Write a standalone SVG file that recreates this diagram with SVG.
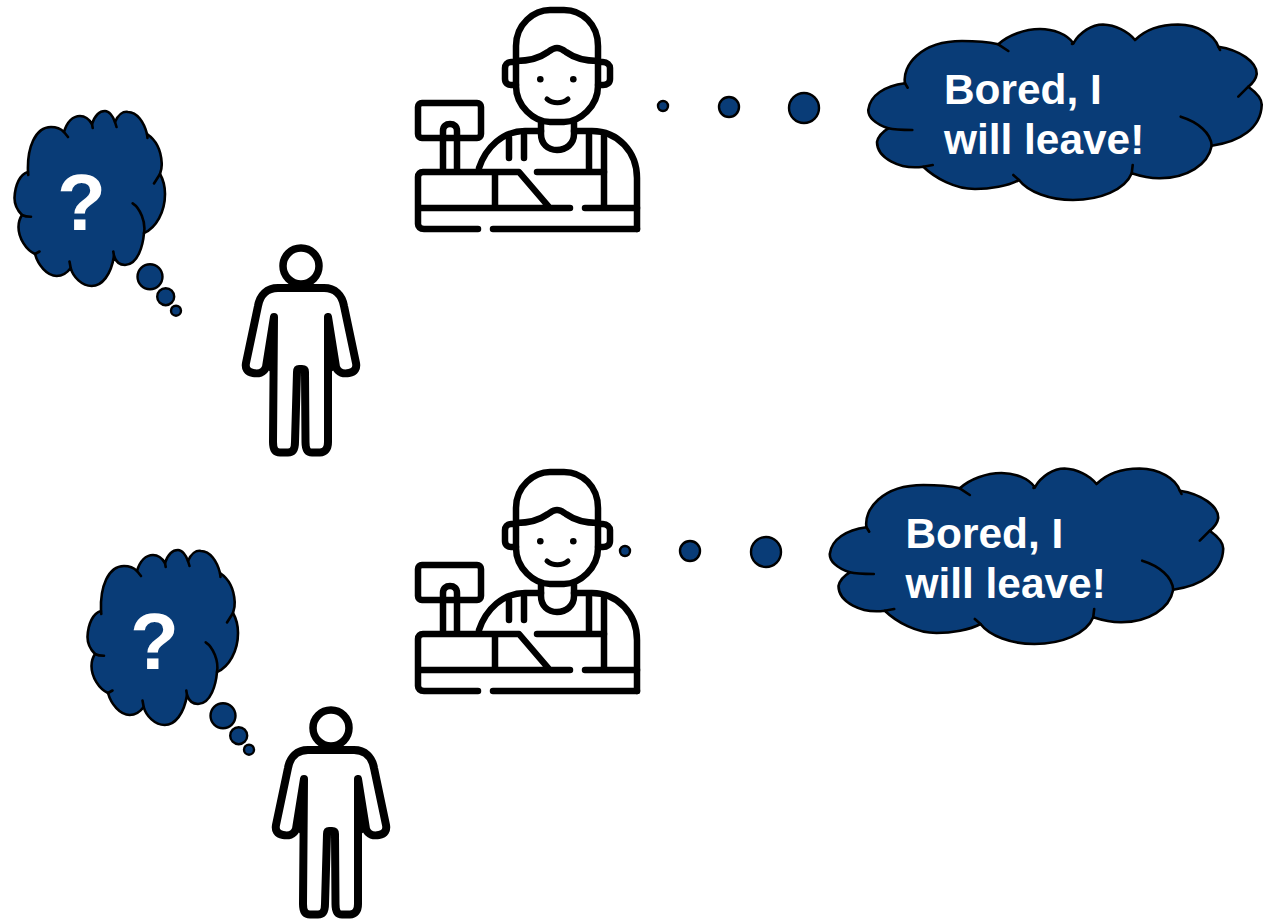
<svg xmlns="http://www.w3.org/2000/svg" width="1268" height="920" viewBox="0 0 1268 920">
<style>
.ic{fill:none;stroke:#000;stroke-width:6.5;stroke-linecap:round;stroke-linejoin:round}
.pe{fill:none;stroke:#000;stroke-width:8;stroke-linecap:round;stroke-linejoin:round}
.cl{fill:#093c77;stroke:#000;stroke-width:2.6;stroke-linejoin:round}
.st{fill:none;stroke:#000;stroke-width:2.6;stroke-linecap:round}
.dot{fill:#093c77;stroke:#000;stroke-width:2.4}
.tx{font-family:"Liberation Sans",Arial,sans-serif;font-weight:700;fill:#fff}
</style>
<defs>
<g id="cashier">
<path class="ic" d="M516 62V46C516 24 534 10 550 10H564C582 10 598 24 598 46V62"/>
<path class="ic" d="M516 61C530 61 541 57 548 52C552 49 554 48 557 48C560 48 562 49 566 52C573 57 584 61 598 61"/>
<path class="ic" d="M516 62V86C516 106 534 122 550 122H564C580 122 598 106 598 86V62"/>
<path class="ic" d="M516 62H511C507 62 505 65 505 68V79C505 83 508 85 511 85H516M598 62H603C607 62 610 65 610 68V79C610 83 607 85 603 85H598"/>
<circle cx="540.300" cy="79.300" r="3.300"/>
<circle cx="573.300" cy="79.300" r="3.300"/>
<path class="ic" style="stroke-width:5" d="M547 99C553 104 562 104 568 99"/>
<path class="ic" d="M541 123V134C541 144 548 150 557 150C566 150 574 144 574 134V123"/>
<path class="ic" d="M479 168C486 147 503 131 525 131H541M574 131H592C618 131 637 152 637 178V229"/>
<path class="ic" d="M509 138V158M524 135V158M589 132V170M604 134V207"/>
<path class="ic" d="M478 229H424C420 229 418 227 418 224V177C418 174 420 172 423 172H519L549 207M495 172V207M418 208H570M585 208H637M493 229H637M537 172H604"/>
<rect class="ic" x="418" y="103" width="63" height="35" rx="4"/>
<path class="ic" d="M443 170V131C443 126 446 124 450 124C454 124 457 126 457 131V170"/>
</g>
<g id="person">
<circle class="pe" style="stroke-width:7.5" cx="301" cy="266" r="18"/>
<path d="M274 316L265 368L274 374Z"/>
<path d="M328 316L337 368L328 374Z"/>
<path class="pe" d="M274 317L266 367C264 373 258 374 253 373C247 372 245 368 246 363L258 306C260 295 267 288 278 288H324C335 288 342 295 344 306L356 363C357 368 355 372 349 373C344 374 338 373 336 367L328 317V442C328 449 325 452.500 320 452.500H312C307 452.500 305.500 449 305.500 442L305 372C305 370 304 369 302 369H299C297 369 297 370 297 372L295 442C295 449 293 452.500 288 452.500H280C275 452.500 273 449 273 442L274 317Z"/>
</g>
<g id="thought">
<path class="cl" d="M28 172C27 148 35 127 51 127C56 127 61 129 64 132C67 122 73 116 80 116C85 116 89 119 92 124C95 115 100 111 105 111C109 111 113 116 115 122C118 115 123 111 128 112C137 112 144 122 147 134C156 140 161 150 161.700 163C162 167 161 171 160 174C164 181 165 187 165 194C165 212 156 228 144 233C143 245 138 265 125 265C120 265 116 262 114 256C111 275 102 286 91.700 286C82 286 73 277 70.700 268C67 273 62 276 56.700 276C47 276 38 265 35 254C26 250 18.500 238 18.500 227C18.500 222 20 218 22 215C17 210 14.500 205 14.500 198C15 185 20 174 28 172Z"/>
<path class="st" d="M64 132L68 137M92 124L92.700 128M115 122L116.500 127M147 134L147.500 138M160 174L154 183.500M132.700 203.300C140 208 146 222 144 233M114 256L113.300 251.500M70.700 268L69.500 261.500M35 254L39.500 251.500M22 215C24 216 27 216.700 31 216.700M28 172L28.300 175"/>
</g>
<g id="trail">
<circle class="dot" cx="150" cy="276.700" r="12.500"/>
<circle class="dot" cx="165.700" cy="296.700" r="8.500"/>
<circle class="dot" cx="176" cy="310.700" r="5"/>
</g>
<g id="speech">
<path class="cl" d="M905 83.300C902 66 920 41 962 41C975 41 988 42 998.300 44.300C1008 35 1025 29 1040 29C1053 29 1067 34 1073.300 43.300C1080 32 1092 24.500 1103 24.500C1115 25 1128 31 1135 40C1145 30 1160 24.500 1178 24.500C1198 25 1214 34 1218.300 46.700C1240 50 1257 62 1256.700 74C1256 79 1253 83 1248.300 86.700C1257 93 1262 99 1261.700 105C1261 128 1240 142 1211.700 145.700C1208 165 1187 178 1160 178.300C1150 178.500 1140 176 1131.700 173.300C1125 190 1100 200 1073 200C1050 200 1028 192 1019 180C1008 186 990 189 975 189C955 189 935 178 923.300 166.700C900 170 877 158 877 142C878 137 882 132 888.300 128.300C875 124 868 117 868.300 110C870 95 885 86 905 83.300Z"/>
<path class="st" d="M905 83.300L907.700 87.700M998.300 44.300L1008.300 51M1073.300 43.300L1072 44M1218.300 46.700L1220 50M1248.300 86.700L1238.300 96.700M1180.700 116.700C1198 122 1211 133 1211.700 145.700M1131.700 173.300L1132.700 165M1019 180L1013.300 175M923.300 166.700L932.700 165M888.300 128.300C895 130 903 130 912.300 130"/>
</g>
</defs>
<g id="connectors">
<use href="#trail"/>
<use href="#trail" x="73" y="439"/>
<circle class="dot" cx="663" cy="106" r="5"/><circle class="dot" cx="729" cy="107" r="10"/><circle class="dot" cx="804" cy="108" r="15"/>
<circle class="dot" cx="625" cy="551" r="5"/><circle class="dot" cx="690" cy="551" r="10"/><circle class="dot" cx="766" cy="552" r="15"/>
</g>
<g id="cashier-top"><use href="#cashier"/></g>
<g id="cashier-bottom"><use href="#cashier" y="462"/></g>
<g id="person-top"><use href="#person"/></g>
<g id="person-bottom"><use href="#person" x="30" y="462"/></g>
<g id="thought-top"><use href="#thought"/><text class="tx" x="81.500" y="230" font-size="80" text-anchor="middle">?</text></g>
<g id="thought-bottom"><use href="#thought" x="73" y="439"/><text class="tx" x="154.500" y="669" font-size="80" text-anchor="middle">?</text></g>
<g id="speech-top"><use href="#speech"/>
<text class="tx" font-size="42.400" x="944" y="103.500">Bored, I</text>
<text class="tx" font-size="42.400" x="944" y="154">will leave!</text></g>
<g id="speech-bottom"><use href="#speech" x="-38.500" y="444"/>
<text class="tx" font-size="42.400" x="905.500" y="547.500">Bored, I</text>
<text class="tx" font-size="42.400" x="905.500" y="598">will leave!</text></g>
</svg>
